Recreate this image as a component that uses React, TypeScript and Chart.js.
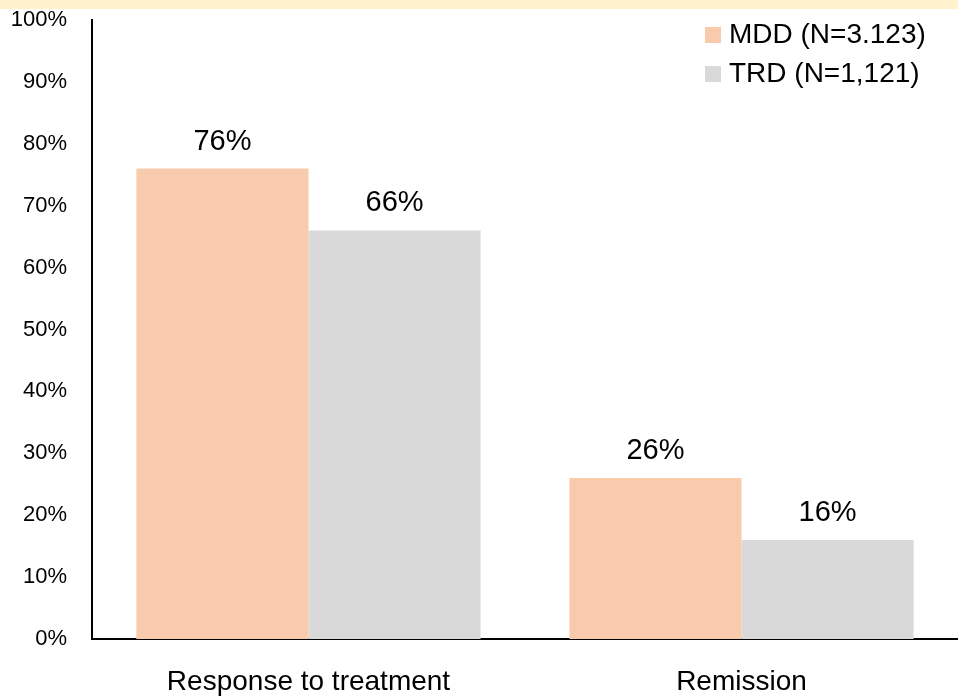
import React, { useEffect, useRef } from "react";
import { Chart, registerables } from "chart.js";

Chart.register(...registerables);

const categories = ["Response to treatment", "Remission"];
const seriesLabels = ["MDD (N=3.123)", "TRD (N=1,121)"];
const mddValues = [76, 26];
const trdValues = [66, 16];
const yTicks = [0, 10, 20, 30, 40, 50, 60, 70, 80, 90, 100];
const colors = ["#F8CBAD", "#D9D9D9"];

const BAND_COLOR = "#FFF2CC";

const topBand = {
  id: "topBand",
  beforeDraw(chart: any) {
    const ctx = chart.ctx;
    ctx.save();
    ctx.fillStyle = BAND_COLOR;
    ctx.fillRect(0, 0, chart.width, 9);
    ctx.restore();
  },
};

const valueLabels = {
  id: "valueLabels",
  afterDatasetsDraw(chart: any) {
    const ctx = chart.ctx;
    ctx.save();
    ctx.font = '29px "Liberation Sans", Arial, sans-serif';
    ctx.fillStyle = "#000";
    ctx.textAlign = "center";
    ctx.textBaseline = "middle";
    chart.data.datasets.forEach((ds: any, i: number) => {
      const meta = chart.getDatasetMeta(i);
      meta.data.forEach((bar: any, j: number) => {
        ctx.fillText(`${ds.data[j]}%`, bar.x, bar.y - 27);
      });
    });
    ctx.restore();
  },
};

const customLegend = {
  id: "customLegend",
  afterDraw(chart: any) {
    const ctx = chart.ctx;
    ctx.save();
    ctx.font = '28px "Liberation Sans", Arial, sans-serif';
    ctx.textBaseline = "middle";
    ctx.textAlign = "left";
    const x0 = 705;
    const rows = [35, 74];
    chart.data.datasets.forEach((ds: any, i: number) => {
      const cy = rows[i];
      ctx.fillStyle = ds.backgroundColor;
      ctx.fillRect(x0, cy - 8, 16, 16);
      ctx.fillStyle = "#000";
      ctx.fillText(ds.label, x0 + 24, cy);
    });
    ctx.restore();
  },
};

export default function App() {
  const ref = useRef<HTMLCanvasElement>(null);

  useEffect(() => {
    if (!ref.current) return;
    const chart = new Chart(ref.current, {
      type: "bar",
      data: {
        labels: categories,
        datasets: [
          { label: seriesLabels[0], data: mddValues, backgroundColor: colors[0] },
          { label: seriesLabels[1], data: trdValues, backgroundColor: colors[1] },
        ],
      },
      options: {
        animation: false,
        responsive: true,
        maintainAspectRatio: false,
        layout: { autoPadding: false, padding: { top: 20, right: 0, left: 0, bottom: 0 } },
        plugins: {
          legend: { display: false },
          tooltip: { enabled: false },
        },
        datasets: {
          bar: { categoryPercentage: 0.795, barPercentage: 1 },
        },
        scales: {
          x: {
            grid: { display: false, drawTicks: false },
            border: { display: true, color: "#000", width: 2 },
            ticks: {
              color: "#000",
              font: { family: '"Liberation Sans", Arial, sans-serif', size: 28 },
              padding: 26,
            },
            afterFit(scale: any) {
              scale.height = 57;
              scale.paddingLeft = 0;
              scale.paddingRight = 0;
            },
          },
          y: {
            min: 0,
            max: 100,
            afterBuildTicks(scale: any) {
              scale.ticks = yTicks.map((v) => ({ value: v }));
            },
            grid: { display: false, drawTicks: false },
            border: { display: true, color: "#000", width: 2 },
            ticks: {
              color: "#000",
              font: { family: '"Liberation Sans", Arial, sans-serif', size: 22 },
              padding: 25,
              callback: (v: any) => `${v}%`,
            },
            afterFit(scale: any) {
              scale.width = 92;
              scale.paddingTop = 0;
              scale.paddingBottom = 0;
            },
          },
        },
      },
      plugins: [topBand, valueLabels, customLegend],
    });
    return () => chart.destroy();
  }, []);

  return (
    <div style={{ position: "fixed", left: 0, top: 0, width: 958, height: 696, background: "#fff" }}>
      <canvas ref={ref} />
    </div>
  );
}
